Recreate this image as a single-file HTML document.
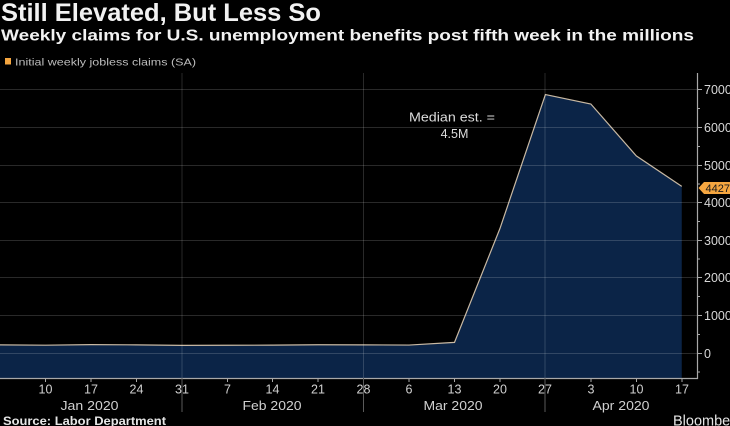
<!DOCTYPE html>
<html><head><meta charset="utf-8"><style>
html,body{margin:0;padding:0;background:#000;}
svg{display:block;}
text{font-family:"Liberation Sans",sans-serif;}
</style></head><body>
<svg width="730" height="426" viewBox="0 0 730 426" xmlns="http://www.w3.org/2000/svg">
<rect width="730" height="426" fill="#000"/>
<text x="1" y="21" font-size="25" font-weight="bold" fill="#f2f2f2" textLength="320" lengthAdjust="spacingAndGlyphs">Still Elevated, But Less So</text>
<text x="1" y="40.5" font-size="15.5" font-weight="bold" fill="#f2f2f2" textLength="693" lengthAdjust="spacingAndGlyphs">Weekly claims for U.S. unemployment benefits post fifth week in the millions</text>
<rect x="5" y="58" width="6" height="6.5" fill="#f5a640"/>
<text x="15" y="65.5" font-size="10.5" fill="#bdbdbd" textLength="181" lengthAdjust="spacingAndGlyphs">Initial weekly jobless claims (SA)</text>

<!-- fill -->
<polygon fill="#0b2447" points="0,378 0,344.87 45.45,345.21 90.9,344.61 136.35,344.87 181.8,345.36 227.25,345.28 272.7,345.10 318.15,344.76 363.6,344.87 409.05,345.06 454.5,342.39 499.95,228.53 545.4,94.53 590.85,104.01 636.3,155.88 681.75,186.37 681.75,378"/>
<polyline fill="none" stroke="#c9b9a3" stroke-width="1.2" points="0,344.87 45.45,345.21 90.9,344.61 136.35,344.87 181.8,345.36 227.25,345.28 272.7,345.10 318.15,344.76 363.6,344.87 409.05,345.06 454.5,342.39 499.95,228.53 545.4,94.53 590.85,104.01 636.3,155.88 681.75,186.37"/>

<!-- gridlines -->
<g stroke="rgba(255,255,255,0.16)" stroke-width="1">
<line x1="0" y1="89.5" x2="697" y2="89.5"/>
<line x1="0" y1="127.5" x2="697" y2="127.5"/>
<line x1="0" y1="165.5" x2="697" y2="165.5"/>
<line x1="0" y1="202.5" x2="697" y2="202.5"/>
<line x1="0" y1="240.5" x2="697" y2="240.5"/>
<line x1="0" y1="277.5" x2="697" y2="277.5"/>
<line x1="0" y1="315.5" x2="697" y2="315.5"/>
<line x1="0" y1="353.5" x2="697" y2="353.5"/>
<line x1="182" y1="73" x2="182" y2="378"/>
<line x1="363.5" y1="73" x2="363.5" y2="378"/>
<line x1="545" y1="73" x2="545" y2="378"/>
</g>

<!-- axes -->
<line x1="0" y1="378.5" x2="698" y2="378.5" stroke="#a8a8a8" stroke-width="1.2"/>
<line x1="697.5" y1="73" x2="697.5" y2="379" stroke="#a8a8a8" stroke-width="1.2"/>
<g stroke="#a8a8a8" stroke-width="1">
<line x1="697" y1="89.5" x2="702" y2="89.5"/>
<line x1="697" y1="127.5" x2="702" y2="127.5"/>
<line x1="697" y1="165.5" x2="702" y2="165.5"/>
<line x1="697" y1="202.5" x2="702" y2="202.5"/>
<line x1="697" y1="240.5" x2="702" y2="240.5"/>
<line x1="697" y1="277.5" x2="702" y2="277.5"/>
<line x1="697" y1="315.5" x2="702" y2="315.5"/>
<line x1="697" y1="353.5" x2="702" y2="353.5"/>
<line x1="697" y1="108.5" x2="700" y2="108.5"/>
<line x1="697" y1="146.5" x2="700" y2="146.5"/>
<line x1="697" y1="184" x2="700" y2="184"/>
<line x1="697" y1="221.5" x2="700" y2="221.5"/>
<line x1="697" y1="259" x2="700" y2="259"/>
<line x1="697" y1="296.5" x2="700" y2="296.5"/>
<line x1="697" y1="334.5" x2="700" y2="334.5"/>
<line x1="697" y1="372" x2="700" y2="372"/>
</g>
<g font-size="12.5" fill="#d8d8d8">
<text x="704" y="94">7000</text>
<text x="704" y="132">6000</text>
<text x="704" y="170">5000</text>
<text x="704" y="207">4000</text>
<text x="704" y="245">3000</text>
<text x="704" y="282">2000</text>
<text x="704" y="320">1000</text>
<text x="704" y="358">0</text>
</g>
<!-- last value label -->
<polygon points="698.5,188 704,182 730,182 730,194 704,194" fill="#f5a640"/>
<text x="705.5" y="192" font-size="11" fill="#1a1a1a">4427</text>

<!-- x ticks -->
<g stroke="#a8a8a8" stroke-width="1">
<line x1="45.5" y1="378" x2="45.5" y2="382"/>
<line x1="91" y1="378" x2="91" y2="382"/>
<line x1="136.5" y1="378" x2="136.5" y2="382"/>
<line x1="227.5" y1="378" x2="227.5" y2="382"/>
<line x1="272.5" y1="378" x2="272.5" y2="382"/>
<line x1="318" y1="378" x2="318" y2="382"/>
<line x1="409" y1="378" x2="409" y2="382"/>
<line x1="454.5" y1="378" x2="454.5" y2="382"/>
<line x1="500" y1="378" x2="500" y2="382"/>
<line x1="591" y1="378" x2="591" y2="382"/>
<line x1="636.5" y1="378" x2="636.5" y2="382"/>
<line x1="682" y1="378" x2="682" y2="382"/>
</g>
<g stroke="#5a5a5a" stroke-width="1">
<line x1="182" y1="378" x2="182" y2="412"/>
<line x1="363.5" y1="378" x2="363.5" y2="412"/>
<line x1="545" y1="378" x2="545" y2="412"/>
</g>
<g font-size="12.5" fill="#d0d0d0" text-anchor="middle">
<text x="45.5" y="393.5">10</text>
<text x="91" y="393.5">17</text>
<text x="136.5" y="393.5">24</text>
<text x="182" y="393.5">31</text>
<text x="227.5" y="393.5">7</text>
<text x="272.5" y="393.5">14</text>
<text x="318" y="393.5">21</text>
<text x="363.5" y="393.5">28</text>
<text x="409" y="393.5">6</text>
<text x="454.5" y="393.5">13</text>
<text x="500" y="393.5">20</text>
<text x="545" y="393.5">27</text>
<text x="591" y="393.5">3</text>
<text x="636.5" y="393.5">10</text>
<text x="682" y="393.5">17</text>
</g>
<g font-size="13" fill="#d0d0d0" text-anchor="middle">
<text x="89.5" y="410" textLength="58" lengthAdjust="spacingAndGlyphs">Jan 2020</text>
<text x="272" y="410" textLength="59" lengthAdjust="spacingAndGlyphs">Feb 2020</text>
<text x="453" y="410" textLength="59" lengthAdjust="spacingAndGlyphs">Mar 2020</text>
<text x="621" y="410" textLength="57" lengthAdjust="spacingAndGlyphs">Apr 2020</text>
</g>

<!-- annotation -->
<g font-size="12.5" fill="#dcdcdc" text-anchor="middle">
<text x="452" y="121.5" textLength="86" lengthAdjust="spacingAndGlyphs">Median est. =</text>
<text x="454.5" y="138">4.5M</text>
</g>

<text x="3" y="425" font-size="12" font-weight="bold" fill="#e6e6e6" textLength="163" lengthAdjust="spacingAndGlyphs">Source: Labor Department</text>
<text x="673" y="425.5" font-size="14.5" fill="#e6e6e6">Bloomberg</text>
</svg>
</body></html>
